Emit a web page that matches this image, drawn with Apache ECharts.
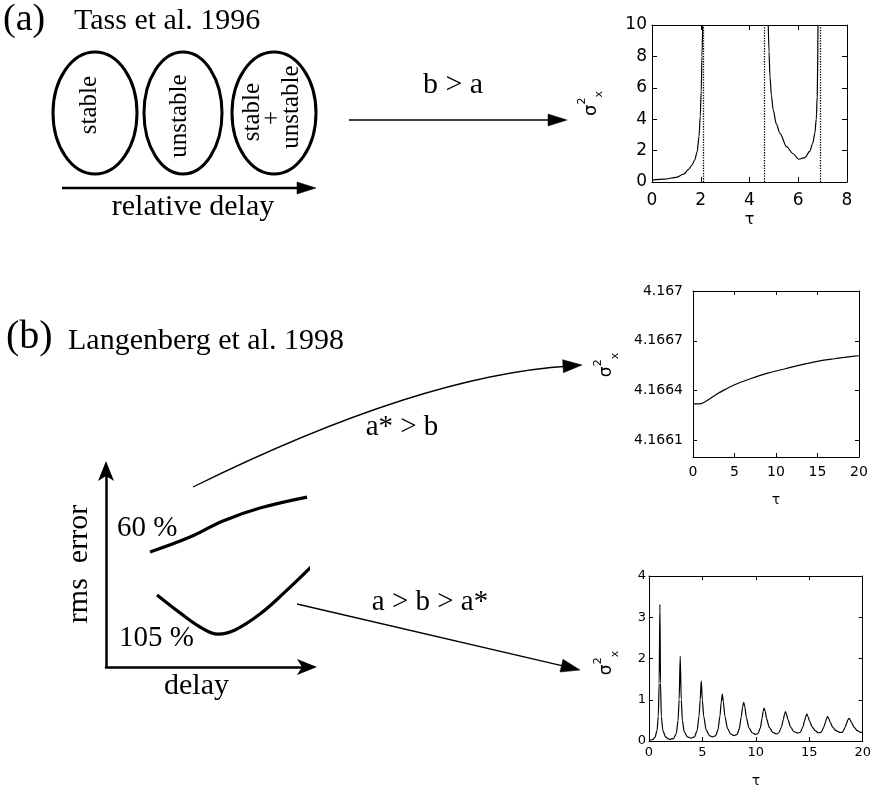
<!DOCTYPE html>
<html><head><meta charset="utf-8">
<script src="https://cdn.jsdelivr.net/npm/echarts@6/dist/echarts.min.js"></script>
<style>html,body{margin:0;padding:0;background:#fff}#c{width:874px;height:789px}</style>
</head><body><div id="c"></div>
<script>
// ---------- Panel (a), right plot: sigma^2_x vs tau ----------
const tauA1 = [0, 0.5, 1.0, 1.3, 1.5, 1.65, 1.75, 1.85, 1.93, 1.98, 2.02, 2.05, 2.08];
const sigA1 = [0.12, 0.18, 0.3, 0.5, 0.8, 1.1, 1.4, 1.9, 2.9, 4.2, 5.8, 8.0, 10];
const tauA2 = [4.77, 4.8, 4.84, 4.9, 4.97, 5.1, 5.25, 5.52, 5.79, 6.02, 6.27, 6.47, 6.6, 6.68, 6.74, 6.78, 6.81];
const sigA2 = [10, 8.3, 6.7, 5.5, 4.6, 3.7, 3.1, 2.25, 1.8, 1.45, 1.55, 1.95, 2.5, 3.1, 4.0, 5.5, 10];
const asymptotesA = [2.12, 4.61, 6.9];
const xTicksA = [0, 2, 4, 6, 8];
const yTicksA = [0, 2, 4, 6, 8, 10];

// ---------- Panel (b), upper plot ----------
const tauB = [0, 1, 2, 3, 4, 5, 6, 7, 8, 9, 10, 11, 12, 13, 14, 15, 16, 17, 18, 19, 20];
const sigB = [4.16632, 4.166322, 4.16635, 4.166383, 4.16641, 4.166435, 4.166455, 4.166473, 4.16649, 4.166505,
  4.166518, 4.16653, 4.166543, 4.166555, 4.166566, 4.166576, 4.166585, 4.166592, 4.166599, 4.166605, 4.16661];
const xTicksB = [0, 5, 10, 15, 20];
const yTicksB = [4.1661, 4.1664, 4.1667, 4.167];
const yRangeB = [4.166, 4.167];

// ---------- Panel (b), lower plot ----------
const tauC = [0, 0.3, 0.55, 0.75, 0.87, 0.95, 1.02, 1.08, 1.15, 1.3, 1.55, 1.8, 2.0,
  2.3, 2.55, 2.72, 2.82, 2.92, 3.02, 3.12, 3.3, 3.6, 3.95,
  4.25, 4.5, 4.68, 4.79, 4.89, 4.99, 5.12, 5.35, 5.65, 5.95,
  6.25, 6.45, 6.64, 6.76, 6.86, 6.96, 7.1, 7.35, 7.65, 7.95,
  8.25, 8.45, 8.63, 8.76, 8.86, 8.97, 9.1, 9.35, 9.65, 9.95,
  10.2, 10.42, 10.58, 10.68, 10.77, 10.87, 11.0, 11.25, 11.6, 11.95,
  12.15, 12.4, 12.57, 12.68, 12.77, 12.87, 13.0, 13.25, 13.55, 13.9,
  14.15, 14.4, 14.57, 14.68, 14.77, 14.87, 15.0, 15.25, 15.55, 15.85,
  16.1, 16.35, 16.52, 16.62, 16.71, 16.81, 16.95, 17.2, 17.5, 17.85,
  18.1, 18.35, 18.52, 18.62, 18.71, 18.81, 18.95, 19.2, 19.5, 19.8, 20];
const sigC = [0.02, 0.03, 0.08, 0.25, 0.6, 1.4, 3.31, 1.4, 0.6, 0.25, 0.1, 0.05, 0.04,
  0.06, 0.18, 0.5, 1.0, 2.05, 1.0, 0.5, 0.22, 0.1, 0.07,
  0.1, 0.25, 0.6, 1.0, 1.46, 1.0, 0.6, 0.27, 0.13, 0.1,
  0.13, 0.27, 0.6, 0.95, 1.14, 0.95, 0.6, 0.3, 0.17, 0.13,
  0.16, 0.3, 0.58, 0.83, 0.94, 0.83, 0.58, 0.32, 0.2, 0.16,
  0.18, 0.32, 0.55, 0.72, 0.8, 0.72, 0.55, 0.33, 0.21, 0.17,
  0.2, 0.34, 0.52, 0.65, 0.71, 0.65, 0.52, 0.34, 0.23, 0.19,
  0.21, 0.34, 0.5, 0.6, 0.65, 0.6, 0.5, 0.35, 0.25, 0.2,
  0.21, 0.33, 0.46, 0.55, 0.59, 0.55, 0.46, 0.33, 0.25, 0.21,
  0.21, 0.33, 0.45, 0.52, 0.55, 0.52, 0.45, 0.33, 0.25, 0.21, 0.21];
const xTicksC = [0, 5, 10, 15, 20];
const yTicksC = [0, 1, 2, 3, 4];

// ---------- Schematic (b): rms error vs delay (arbitrary units) ----------
const delay60 = [2.19, 4.18, 5.82, 7.66, 10.0];
const rms60 = [5.87, 6.63, 7.45, 8.11, 8.67];
const delay105 = [2.54, 3.68, 4.68, 5.57, 6.42, 7.66, 8.91, 10.3];
const rms105 = [3.67, 2.76, 2.04, 1.68, 1.89, 2.70, 3.83, 5.20];

const zip = (a, b) => a.map((v, i) => [v, b[i]]);
const K = '#000';
const SANS = 'DejaVu Sans';
const SERIF = 'Liberation Serif';

const line = {show: true, onZero: false, lineStyle: {color: K, width: 1}};
const tick = (len) => ({show: true, inside: true, length: len, lineStyle: {color: K, width: 1}});
const noSplit = {show: false};

function sigmaName(fs) {
  return {
    name: '{s|σ}{p|2}{b|x}',
    nameRotate: 90,
    nameLocation: 'middle',
    nameTextStyle: {
      rich: {
        s: {fontSize: fs, fontFamily: SANS, color: K, lineHeight: 28, verticalAlign: 'middle'},
        p: {fontSize: 11, fontFamily: SANS, color: K, lineHeight: 13, verticalAlign: 'top'},
        b: {fontSize: 11, fontFamily: SANS, color: K, lineHeight: 12, verticalAlign: 'bottom'}
      }
    }
  };
}

function boxAxes(gi, xt, yt, o) {
  const xmin = o.xmin !== undefined ? o.xmin : xt[0], xmax = o.xmax !== undefined ? o.xmax : xt[xt.length - 1];
  const ymin = o.ymin !== undefined ? o.ymin : yt[0], ymax = o.ymax !== undefined ? o.ymax : yt[yt.length - 1];
  const xs = [
    {
      type: 'value', gridIndex: gi, min: xmin, max: xmax, position: 'bottom',
      axisLine: line, axisTick: Object.assign(tick(o.tl), {customValues: xt}),
      axisLabel: {customValues: xt, fontSize: o.fs, fontFamily: SANS, color: K, margin: o.xm},
      splitLine: noSplit,
      name: 'τ', nameLocation: 'middle', nameGap: o.tg,
      nameTextStyle: {fontSize: o.tfs, fontFamily: SANS, color: K}
    },
    {type: 'value', gridIndex: gi, min: xmin, max: xmax, position: 'top',
      axisLine: line, axisTick: Object.assign(tick(o.tl), {customValues: xt}),
      axisLabel: {show: false}, splitLine: noSplit}
  ];
  const sn = sigmaName(o.sfs);
  sn.nameGap = o.sg;
  sn.nameTextStyle.padding = o.sp;
  const ys = [
    Object.assign({
      type: 'value', gridIndex: gi, min: ymin, max: ymax, position: 'left',
      axisLine: line, axisTick: Object.assign(tick(o.tl), {customValues: yt}),
      axisLabel: {customValues: yt, fontSize: o.fs, fontFamily: SANS, color: K, margin: o.ym,
        formatter: v => String(Number(Number(v).toFixed(5)))},
      splitLine: noSplit
    }, sn),
    {type: 'value', gridIndex: gi, min: ymin, max: ymax, position: 'right',
      axisLine: line, axisTick: Object.assign(tick(o.tl), {customValues: yt}),
      axisLabel: {show: false}, splitLine: noSplit}
  ];
  return {xs, ys};
}

const A = boxAxes(0, xTicksA, yTicksA, {fs: 17, tl: 5, xm: 10, ym: 5, tg: 30, tfs: 16, sfs: 18, sg: 47, sp: [0, 0, 0, 0]});
const B = boxAxes(1, xTicksB, yTicksB, {ymin: yRangeB[0], ymax: yRangeB[1], fs: 14, tl: 4, xm: 8, ym: 10, tg: 36, tfs: 14, sfs: 17, sg: 72, sp: [0, 0, 0, 18]});
const C = boxAxes(2, xTicksC, yTicksC, {fs: 13, tl: 4, xm: 5, ym: 3, tg: 33, tfs: 14, sfs: 17, sg: 28, sp: [0, 9, 0, 0]});

const arrowAxisLine = {show: true, onZero: false, symbol: ['none', 'arrow'], symbolSize: [12, 20],
  symbolOffset: [0, 10], lineStyle: {color: K, width: 2.5}};
const schemX = {
  type: 'value', gridIndex: 3, min: 0, max: 10,
  axisLine: arrowAxisLine,
  axisTick: {show: false}, axisLabel: {show: false}, splitLine: noSplit,
  name: 'delay', nameLocation: 'middle', nameGap: 4,
  nameTextStyle: {fontSize: 30, fontFamily: SERIF, color: K, padding: [0, 20, 0, 0]}
};
const schemY = {
  type: 'value', gridIndex: 3, min: 0, max: 10,
  axisLine: arrowAxisLine,
  axisTick: {show: false}, axisLabel: {show: false}, splitLine: noSplit,
  name: 'rms  error', nameLocation: 'middle', nameRotate: 90, nameGap: 12,
  nameTextStyle: {fontSize: 30, fontFamily: SERIF, color: K, padding: [0, 0, 0, 10]}
};

const thin = {color: K, width: 1.2};
const series = [
  {type: 'line', xAxisIndex: 0, yAxisIndex: 0, data: zip(tauA1, sigA1), showSymbol: false, smooth: 0.3, smoothMonotone: 'x',
    lineStyle: thin, silent: true,
    markLine: {silent: true, symbol: 'none', label: {show: false},
      lineStyle: {color: K, type: 'dotted', width: 1.3},
      data: asymptotesA.map(v => ({xAxis: v}))}},
  {type: 'line', xAxisIndex: 0, yAxisIndex: 0, data: zip(tauA2, sigA2), showSymbol: false, smooth: 0.3, smoothMonotone: 'x',
    lineStyle: thin, silent: true},
  {type: 'line', xAxisIndex: 2, yAxisIndex: 2, data: zip(tauB, sigB), showSymbol: false, smooth: 0.3,
    lineStyle: thin, silent: true},
  {type: 'line', xAxisIndex: 4, yAxisIndex: 4, data: zip(tauC, sigC), showSymbol: false, smooth: 0.25, smoothMonotone: 'x',
    lineStyle: thin, silent: true},
  {type: 'line', xAxisIndex: 6, yAxisIndex: 6, data: zip(delay60, rms60), showSymbol: false, smooth: 0.4, clip: false,
    lineStyle: {color: K, width: 3.2}, silent: true},
  {type: 'line', xAxisIndex: 6, yAxisIndex: 6, data: zip(delay105, rms105), showSymbol: false, smooth: 0.4, clip: false,
    lineStyle: {color: K, width: 3.2}, silent: true}
];

// ---------- annotation helpers ----------
function txt(s, x, y, fs, opt) {
  opt = opt || {};
  return {type: 'text', x, y, rotation: opt.rot || 0, z: 100, silent: true,
    style: {text: s, fontSize: fs, fontFamily: SERIF, fill: K,
      align: opt.align || 'center', verticalAlign: 'middle',
      textAlign: opt.align || 'center', textVerticalAlign: 'middle'}};
}
function head(tx, ty, dx, dy, len, hw) {
  const L = Math.hypot(dx, dy), ux = dx / L, uy = dy / L;
  const bx = tx - ux * len, by = ty - uy * len;
  return {type: 'polygon', z: 100, silent: true,
    shape: {points: [[tx, ty], [bx - uy * hw, by + ux * hw], [bx + uy * hw, by - ux * hw]]},
    style: {fill: K, stroke: K, lineWidth: 0.5}};
}
function arrow(x1, y1, x2, y2, lw, len, hw) {
  const L = Math.hypot(x2 - x1, y2 - y1), ux = (x2 - x1) / L, uy = (y2 - y1) / L;
  return [{type: 'line', z: 100, silent: true,
    shape: {x1, y1, x2: x2 - ux * len * 0.7, y2: y2 - uy * len * 0.7},
    style: {stroke: K, lineWidth: lw}}, head(x2, y2, x2 - x1, y2 - y1, len, hw)];
}
function ell(cx, cy, rx, ry) {
  return {type: 'ellipse', z: 100, silent: true, shape: {cx, cy, rx, ry},
    style: {fill: 'none', stroke: K, lineWidth: 3}};
}
const R = Math.PI / 2;
const graphics = [].concat(
  [txt('(a)', 3, 20, 38, {align: 'left'}),
   txt('Tass et al. 1996', 74, 21, 30, {align: 'left'}),
   ell(95, 113, 42, 61), ell(183, 113, 39, 61), ell(274, 113, 42, 61),
   txt('stable', 89, 105, 25, {rot: R}),
   txt('unstable', 179, 116, 25, {rot: R}),
   txt('stable', 252, 112, 25, {rot: R}),
   txt('+', 272, 118, 25, {rot: R}),
   txt('unstable', 291, 107, 25, {rot: R}),
   txt('relative delay', 193, 207, 30),
   txt('b > a', 453, 85, 30),
   txt('(b)', 6, 337, 40, {align: 'left'}),
   txt('Langenberg et al. 1998', 68, 341, 30, {align: 'left'}),
   txt('a* > b', 402, 427, 29),
   txt('a > b > a*', 430, 602, 29),
   txt('60 %', 117, 528, 29, {align: 'left'}),
   txt('105 %', 119, 638, 29, {align: 'left'}),
   {type: 'bezierCurve', z: 100, silent: true,
     shape: {x1: 193, y1: 487, x2: 570, y2: 366, cpx1: 420, cpy1: 375},
     style: {stroke: K, lineWidth: 1.3, fill: 'none'}},
   head(582, 365, 162, -10, 19, 6.5)],
  arrow(62, 188, 316, 188, 2.5, 19, 6),
  arrow(349, 120, 567, 120, 1.3, 19, 6),
  arrow(297, 604, 580, 670, 1.3, 19, 6.5)
);

const chart = echarts.init(document.getElementById('c'), null, {renderer: 'canvas'});
chart.setOption({
  animation: false,
  backgroundColor: '#fff',
  grid: [
    {left: 652, top: 25, width: 195, height: 157},
    {left: 693, top: 291, width: 166, height: 166},
    {left: 649, top: 576, width: 217, height: 169},
    {left: 106, top: 471, width: 201, height: 196}
  ],
  xAxis: [].concat(A.xs, B.xs, C.xs, [schemX]),
  yAxis: [].concat(A.ys, B.ys, C.ys, [schemY]),
  series: series,
  graphic: {elements: graphics}
});
</script></body></html>
